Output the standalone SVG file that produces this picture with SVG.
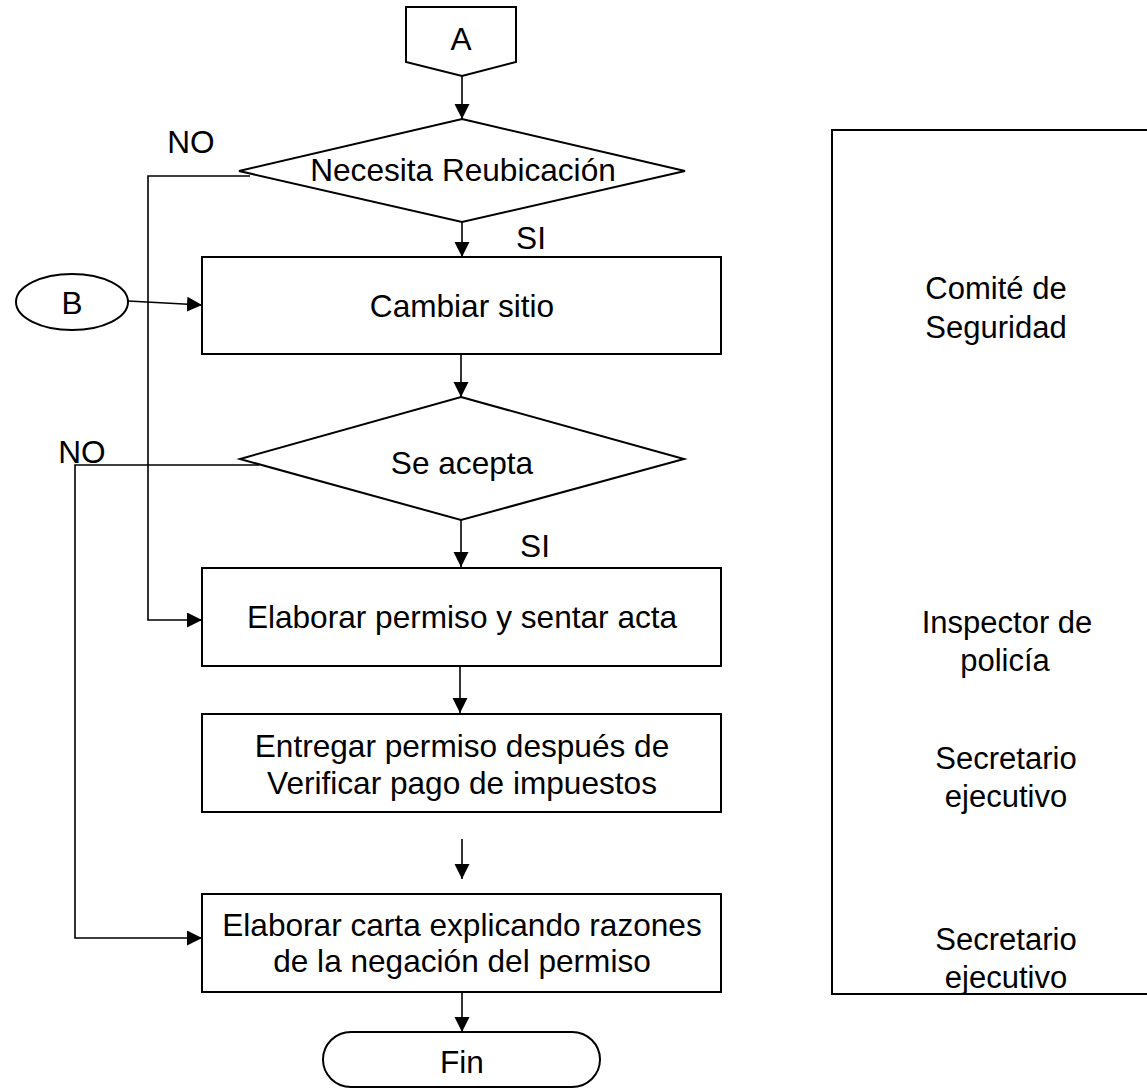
<svg xmlns="http://www.w3.org/2000/svg" width="1147" height="1088" viewBox="0 0 1147 1088">
<style>
.s{fill:#fff;stroke:#000;stroke-width:2}
.c{fill:none;stroke:#000;stroke-width:1.6}
text{font-family:"Liberation Sans",Arial,sans-serif;font-size:31.6px;fill:#000;text-anchor:middle}
.r{font-size:31px}
</style>
<defs>
<marker id="ah" markerUnits="userSpaceOnUse" markerWidth="16" markerHeight="16" refX="15" refY="7.5" orient="auto">
<path d="M0,0 L15,7.5 L0,15 z" fill="#000"/>
</marker>
</defs>
<rect width="1147" height="1088" fill="#fff"/>
<g id="connectors">
<line class="c" x1="462" y1="76" x2="462" y2="119" marker-end="url(#ah)"/>
<line class="c" x1="462" y1="222" x2="462" y2="257" marker-end="url(#ah)"/>
<polyline class="c" points="250,176 148,176 148,620 202,620" marker-end="url(#ah)"/>
<line class="c" x1="128" y1="301" x2="202" y2="305" marker-end="url(#ah)"/>
<line class="c" x1="461" y1="354" x2="461" y2="397" marker-end="url(#ah)"/>
<polyline class="c" points="259,465 75,465 75,938 202,938" marker-end="url(#ah)"/>
<line class="c" x1="461" y1="520" x2="461" y2="567" marker-end="url(#ah)"/>
<line class="c" x1="460" y1="658" x2="460" y2="713" marker-end="url(#ah)"/>
<line class="c" x1="462" y1="839" x2="462" y2="879" marker-end="url(#ah)"/>
<line class="c" x1="462" y1="992" x2="462" y2="1032" marker-end="url(#ah)"/>
</g>
<g id="nodeA">
<polygon class="s" points="406,7 516,7 516,62 462,76 406,62"/>
<text x="461" y="50">A</text>
</g>
<g id="decision1">
<polygon class="s" points="462,119 685,171 462,222 239,171"/>
<text x="463" y="181">Necesita Reubicación</text>
</g>
<g id="labelNO1"><text x="191" y="153">NO</text></g>
<g id="labelSI1"><text x="531" y="249">SI</text></g>
<g id="nodeB">
<ellipse class="s" cx="72" cy="302" rx="56" ry="28"/>
<text x="72" y="314">B</text>
</g>
<g id="cambiar">
<rect class="s" x="202" y="257" width="519" height="97"/>
<text x="462" y="317">Cambiar sitio</text>
</g>
<g id="decision2">
<polygon class="s" points="461,397 684,459 461,520 240,459"/>
<text x="462" y="474">Se acepta</text>
</g>
<g id="labelNO2"><text x="82" y="463">NO</text></g>
<g id="labelSI2"><text x="535" y="557">SI</text></g>
<g id="elaborarPermiso">
<rect class="s" x="202" y="568" width="519" height="98"/>
<text x="462" y="628">Elaborar permiso y sentar acta</text>
</g>
<g id="entregar">
<rect class="s" x="202" y="714" width="519" height="98"/>
<text x="462" y="757">Entregar permiso después de</text>
<text x="462" y="794">Verificar pago de impuestos</text>
</g>
<g id="elaborarCarta">
<rect class="s" x="202" y="894" width="519" height="98"/>
<text x="462" y="936">Elaborar carta explicando razones</text>
<text x="462" y="972">de la negación del permiso</text>
</g>
<g id="fin">
<rect class="s" x="323" y="1032" width="277" height="55" rx="28" ry="27.5"/>
<text x="462" y="1073">Fin</text>
</g>
<g id="responsables">
<rect class="s" x="832" y="130" width="330" height="864"/>
<text class="r" x="996" y="299">Comité de</text>
<text class="r" x="996" y="338">Seguridad</text>
<text class="r" x="1007" y="633">Inspector de</text>
<text class="r" x="1005" y="671">policía</text>
<text class="r" x="1006" y="769">Secretario</text>
<text class="r" x="1006" y="807">ejecutivo</text>
<text class="r" x="1006" y="950">Secretario</text>
<text class="r" x="1006" y="988">ejecutivo</text>
</g>
</svg>
